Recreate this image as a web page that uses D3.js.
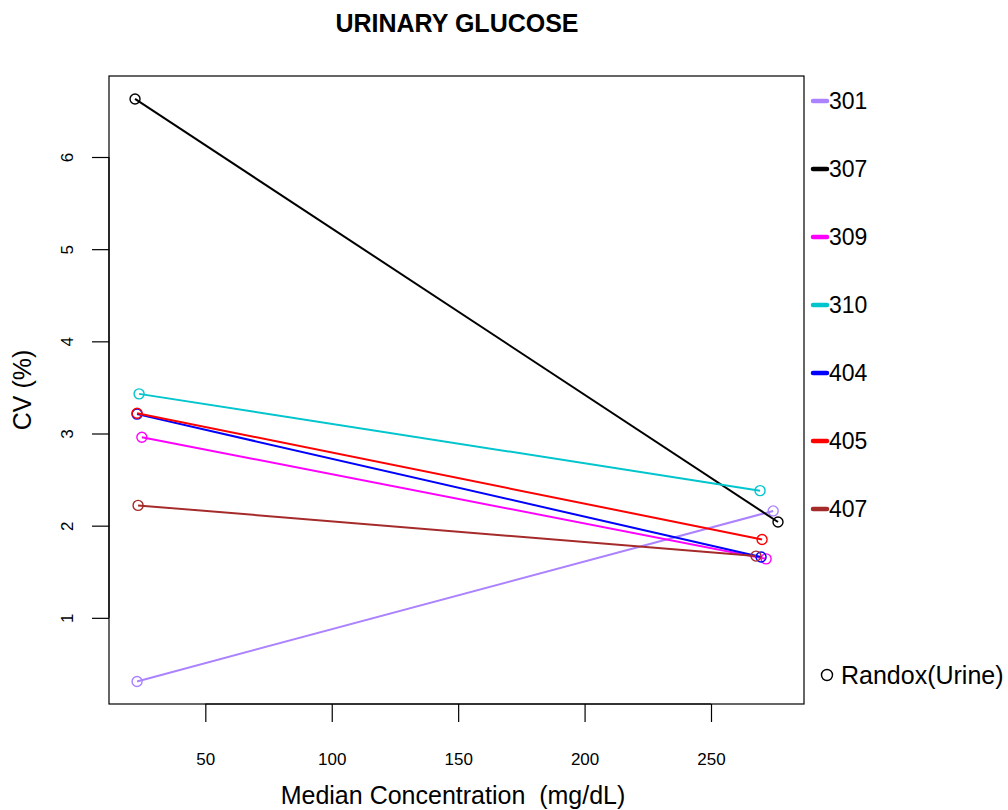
<!DOCTYPE html>
<html>
<head>
<script src="https://d3js.org/d3.v7.min.js"></script>
<style>
  body { margin: 0; background: #fff; }
  text { font-family: "Liberation Sans", Arial, sans-serif; }
</style>
</head>
<body>
<svg id="chart" width="1008" height="810"></svg>
<script>
// labs and their colours
const labs = ["301", "307", "309", "310", "404", "405", "407"];
const colors = ["#AB82FF", "#000000", "#FF00FF", "#00C5CD", "#0000FF", "#FF0000", "#A52A2A"];

// median concentration (low, high) and CV (low, high) per lab
const concLow  = [23.0, 22.2, 24.9, 23.8, 23.0, 23.0, 23.4];
const concHigh = [274.6, 276.5, 271.8, 269.4, 269.8, 270.2, 267.8];
const cvLow    = [0.31, 6.63, 2.96, 3.43, 3.21, 3.22, 2.22];
const cvHigh   = [2.16, 2.04, 1.64, 2.38, 1.66, 1.85, 1.67];

const xTicks = [50, 100, 150, 200, 250];
const yTicks = [1, 2, 3, 4, 5, 6];

const svg = d3.select("#chart");
const box = { left: 109, right: 804, top: 76, bottom: 704 };

const x = d3.scaleLinear().domain([0, 250]).range([78.9, 711]);
const y = d3.scaleLinear().domain([0, 6]).range([710, 157]);

// plot frame
svg.append("rect")
   .attr("x", box.left).attr("y", box.top)
   .attr("width", box.right - box.left).attr("height", box.bottom - box.top)
   .attr("fill", "none").attr("stroke", "#000").attr("stroke-width", 1.2);

// axes
const xAxis = svg.append("g").attr("transform", `translate(0,${box.bottom})`)
   .call(d3.axisBottom(x).tickValues(xTicks).tickFormat(d3.format("d"))
           .tickSize(18).tickPadding(31).tickSizeOuter(0));
xAxis.select(".domain").attr("d", `M${x(50)},0H${x(250)}`).attr("stroke-width", 1.2);
xAxis.selectAll(".tick line").attr("stroke-width", 1.2);
xAxis.selectAll(".tick text").attr("font-size", 17).attr("fill", "#000");

const yAxis = svg.append("g").attr("transform", `translate(${box.left},0)`)
   .call(d3.axisLeft(y).tickValues(yTicks).tickFormat(d3.format("d"))
           .tickSize(17).tickSizeOuter(0));
yAxis.select(".domain").attr("d", `M0,${y(1)}V${y(6)}`).attr("stroke-width", 1.2);
yAxis.selectAll(".tick line").attr("stroke-width", 1.2);
yAxis.selectAll(".tick text")
     .attr("font-size", 17).attr("fill", "#000")
     .attr("x", null).attr("dy", null)
     .attr("text-anchor", "middle")
     .attr("transform", "translate(-42,0) rotate(-90) translate(0,6)");

// lines and points
const series = labs.map((lab, i) => ({
  lab, color: colors[i],
  pts: [[concLow[i], cvLow[i]], [concHigh[i], cvHigh[i]]]
}));

const line = d3.line().x(d => x(d[0])).y(d => y(d[1]));

const g = svg.append("g");
series.forEach(s => {
  g.append("path").attr("d", line(s.pts))
   .attr("fill", "none").attr("stroke", s.color).attr("stroke-width", 2);
  g.selectAll(null).data(s.pts).join("circle")
   .attr("cx", d => x(d[0])).attr("cy", d => y(d[1])).attr("r", 5)
   .attr("fill", "none").attr("stroke", s.color).attr("stroke-width", 1.4);
});

// titles
svg.append("text").attr("x", 457).attr("y", 32).attr("text-anchor", "middle")
   .attr("font-size", 25).attr("font-weight", "bold").text("URINARY GLUCOSE");
svg.append("text").attr("x", 453).attr("y", 804).attr("text-anchor", "middle")
   .attr("font-size", 25).attr("xml:space", "preserve").text("Median Concentration  (mg/dL)");
svg.append("text").attr("transform", "translate(31,390) rotate(-90)").attr("text-anchor", "middle")
   .attr("font-size", 25).text("CV (%)");

// legend
const legY = d3.scaleLinear().domain([0, 6]).range([101, 509]);
const leg = svg.append("g");
series.forEach((s, i) => {
  leg.append("line").attr("x1", 813).attr("x2", 827)
     .attr("y1", legY(i)).attr("y2", legY(i))
     .attr("stroke", s.color).attr("stroke-width", 4.5).attr("stroke-linecap", "round");
  leg.append("text").attr("x", 829).attr("y", legY(i) + 8)
     .attr("font-size", 23).text(s.lab);
});
leg.append("circle").attr("cx", 827).attr("cy", 675).attr("r", 5.5)
   .attr("fill", "none").attr("stroke", "#000").attr("stroke-width", 1.4);
leg.append("text").attr("x", 841).attr("y", 684).attr("font-size", 25).text("Randox(Urine)");
</script>
</body>
</html>
